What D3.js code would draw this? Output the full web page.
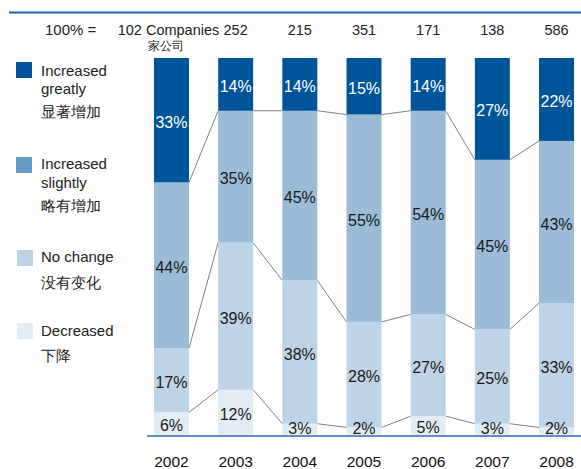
<!DOCTYPE html>
<meta charset="utf-8">
<style>
  body, html { margin:0; padding:0; background:#fff; }
  text { font-family: "Liberation Sans", Arial, sans-serif; }
</style>
<body>
<svg width="581" height="469"></svg>
<script src="https://d3js.org/d3.v7.min.js"></script>
<script>
// data
var years = ["2002", "2003", "2004", "2005", "2006", "2007", "2008"];
var companies = [102, 252, 215, 351, 171, 138, 586];
var greatly  = [33, 14, 14, 15, 14, 27, 22];
var slightly = [44, 35, 45, 55, 54, 45, 43];
var nochange = [17, 39, 38, 28, 27, 25, 33];
var decreased = [6, 12, 3, 2, 5, 3, 2];

var keys = ["decreased", "nochange", "slightly", "greatly"];
var legendLabels = {
  greatly: ["Increased", "greatly", "显著增加"],
  slightly: ["Increased", "slightly", "略有增加"],
  nochange: ["No change", "没有变化"],
  decreased: ["Decreased", "下降"]
};

var rows = years.map(function(y, i) {
  return { year: y, greatly: greatly[i], slightly: slightly[i], nochange: nochange[i], decreased: decreased[i] };
});

var svg = d3.select("svg");

var x = d3.scaleBand()
    .domain(years)
    .range([154, 574])
    .paddingInner(0.455)
    .paddingOuter(0);

var y = d3.scaleLinear()
    .domain([0, 100])
    .range([435, 58]);

var fill = d3.scaleOrdinal()
    .domain(keys)
    .range(["#e3ecf5", "#bed3e5", "#9bbbd6", "#00549a"]);
var legendFill = d3.scaleOrdinal()
    .domain(keys)
    .range(["#e3ecf5", "#bed3e5", "#6699c2", "#00549a"]);

var series = d3.stack().keys(keys)(rows);

// top rule
svg.append("line")
    .attr("x1", 9).attr("x2", 581)
    .attr("y1", 12.5).attr("y2", 12.5)
    .attr("stroke", "#1f64a8")
    .attr("stroke-width", 2);

// connector lines between bars
var bw = x.bandwidth();
series.slice(0, 3).forEach(function(s) {
  for (var i = 0; i < s.length - 1; i++) {
    svg.append("line")
        .attr("x1", x(years[i]) + bw).attr("y1", y(s[i][1]))
        .attr("x2", x(years[i + 1])).attr("y2", y(s[i + 1][1]))
        .attr("stroke", "#808080")
        .attr("stroke-width", 1);
  }
});

// bars
var layer = svg.selectAll(".serie")
    .data(series)
    .enter().append("g")
    .attr("class", "serie")
    .attr("fill", function(d) { return fill(d.key); });

layer.selectAll("rect")
    .data(function(d) { return d; })
    .enter().append("rect")
    .attr("x", function(d) { return x(d.data.year); })
    .attr("y", function(d) { return y(d[1]); })
    .attr("width", bw)
    .attr("height", function(d) { return y(d[0]) - y(d[1]); });

// value labels
series.forEach(function(s) {
  svg.selectAll(null)
      .data(s)
      .enter().append("text")
      .attr("x", function(d) { return x(d.data.year) + bw / 2; })
      .attr("y", function(d) { return Math.min((y(d[0]) + y(d[1])) / 2 + 2, 428); })
      .attr("dy", "0.35em")
      .attr("text-anchor", "middle")
      .attr("font-size", 16)
      .attr("fill", s.key == "greatly" ? "#fff" : "#1a1a1a")
      .text(function(d) { return (d[1] - d[0]) + "%"; });
});

// baseline
svg.append("line")
    .attr("x1", 147).attr("x2", 581)
    .attr("y1", 436).attr("y2", 436)
    .attr("stroke", "#2a6aad")
    .attr("stroke-width", 1.5);

// year axis labels
svg.append("g").selectAll("text")
    .data(years)
    .enter().append("text")
    .attr("x", function(d) { return x(d) + bw / 2; })
    .attr("y", 467)
    .attr("text-anchor", "middle")
    .attr("font-size", 15.5)
    .attr("fill", "#111")
    .text(function(d) { return d; });

// header: sample sizes
svg.append("text")
    .attr("x", 45).attr("y", 35)
    .attr("font-size", 15)
    .attr("fill", "#222")
    .text("100% =");

svg.append("g").selectAll("text")
    .data(companies)
    .enter().append("text")
    .attr("x", function(d, i) { return x(years[i]) + bw / 2 - (i == 0 ? 3 : 0); })
    .attr("y", 35)
    .attr("text-anchor", "middle")
    .attr("font-size", 14.5)
    .attr("fill", "#222")
    .text(function(d, i) { return i == 0 ? d + " Companies" : d; });

svg.append("text")
    .attr("x", 166).attr("y", 50)
    .attr("text-anchor", "middle")
    .attr("font-size", 12)
    .attr("font-family", "Noto Sans CJK SC")
    .attr("fill", "#222")
    .text("家公司");

// legend
var legendPos = { greatly: 62, slightly: 157, nochange: 250, decreased: 323 };
var legendLines = {
  greatly: [76, 94, 117],
  slightly: [169, 188, 211],
  nochange: [262, 288],
  decreased: [336, 361]
};
["greatly", "slightly", "nochange", "decreased"].forEach(function(k) {
  var g = svg.append("g");
  g.append("rect")
      .attr("x", k == "greatly" || k == "slightly" ? 16 : 17)
      .attr("y", legendPos[k])
      .attr("width", 16).attr("height", 16)
      .attr("fill", legendFill(k));
  legendLabels[k].forEach(function(t, j) {
    var cjk = /[\u4e00-\u9fff]/.test(t);
    g.append("text")
        .attr("x", 41)
        .attr("y", legendLines[k][j])
        .attr("font-size", 15)
        .attr("font-family", cjk ? "Noto Sans CJK SC" : null)
        .attr("fill", "#222")
        .text(t);
  });
});
</script>
</body>
